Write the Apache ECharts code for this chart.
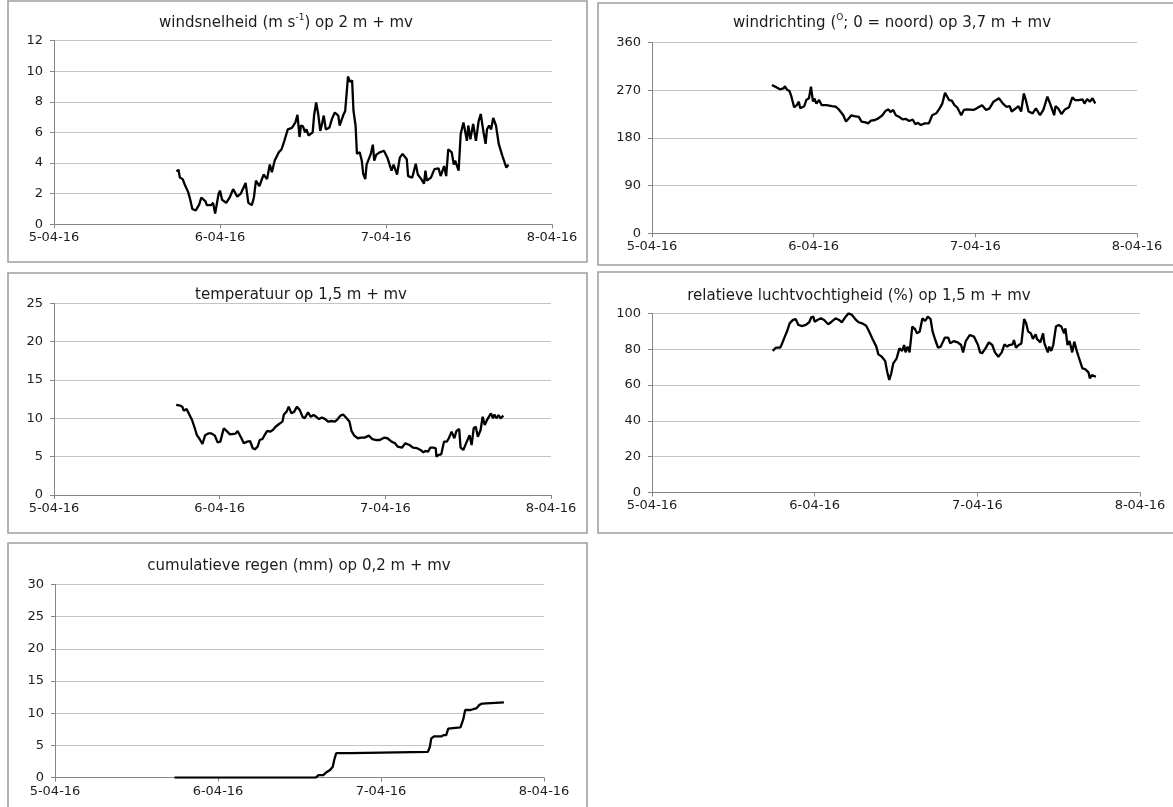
<!DOCTYPE html>
<html>
<head>
<meta charset="utf-8">
<script src="https://cdn.jsdelivr.net/npm/echarts@6/dist/echarts.min.js"></script>
<style>
  html, body { margin: 0; padding: 0; background: #ffffff; }
  #chart { width: 1173px; height: 807px; }
</style>
</head>
<body>
<div id="chart"></div>
<script>
// Weather station record, 5-04-16 to 8-04-16. Times are hours after 5-04-16 00:00.
const DAY_LABELS = ['5-04-16', '6-04-16', '7-04-16', '8-04-16'];

// wind speed (m/s) at 2 m
const windHours = [17.7,18.0,18.2,18.6,18.9,19.4,19.7,20.0,20.2,20.5,21.0,21.3,21.9,22.1,22.7,23.0,23.3,23.8,24.0,24.3,24.9,25.4,25.9,26.5,27.0,27.7,28.1,28.6,28.9,29.2,29.7,30.3,30.8,31.2,31.5,31.9,32.5,32.9,33.3,33.8,34.4,34.9,35.2,35.5,35.7,36.0,36.3,36.5,36.8,37.4,37.6,37.9,38.2,38.5,38.7,39.0,39.3,39.8,40.2,40.6,41.1,41.3,41.8,42.1,42.4,42.5,42.8,43.1,43.3,43.6,43.8,44.2,44.5,44.7,45.0,45.2,45.8,46.1,46.3,46.6,47.1,47.7,48.2,48.8,49.1,49.6,50.0,50.4,51.0,51.2,51.8,52.3,52.6,53.1,53.5,53.7,53.9,54.5,55.0,55.6,55.9,56.4,56.7,57.0,57.5,57.8,58.0,58.5,58.8,59.2,59.7,59.9,60.2,60.6,61.0,61.4,61.7,62.1,62.4,62.6,62.9,63.2,63.5,63.9,64.3,64.8,65.4,65.7];
const windSpeed = [3.45,3.56,3.06,2.95,2.6,2.1,1.6,1.0,1.1,0.9,1.3,1.75,1.5,1.25,1.25,1.4,0.7,2.0,2.2,1.6,1.4,1.75,2.3,1.8,2.0,2.7,1.4,1.25,1.75,2.85,2.5,3.25,2.95,3.9,3.4,4.15,4.7,4.9,5.45,6.2,6.3,6.65,7.15,5.7,6.45,6.4,6.0,6.2,5.8,6.0,7.1,7.95,7.2,6.1,6.45,7.1,6.2,6.3,6.9,7.3,7.1,6.45,7.1,7.4,9.05,9.65,9.3,9.4,7.4,6.45,4.6,4.7,4.15,3.3,2.95,3.9,4.6,5.2,4.15,4.55,4.7,4.8,4.35,3.5,3.9,3.25,4.35,4.6,4.25,3.15,3.05,3.95,3.25,2.95,2.65,3.5,2.85,3.05,3.6,3.65,3.15,3.8,3.15,4.9,4.7,3.9,4.15,3.5,5.9,6.65,5.45,6.45,5.55,6.55,5.45,6.75,7.2,6.0,5.25,6.2,6.45,6.2,6.95,6.45,5.25,4.5,3.7,3.9];

// wind direction (degrees, 0 = north) at 3.7 m
const dirHours = [17.8,18.5,19.0,19.6,19.7,20.1,20.4,20.7,21.1,21.5,21.8,22.0,22.6,22.9,23.3,23.6,23.9,24.1,24.4,24.8,25.2,25.9,26.7,27.3,27.8,28.4,28.8,29.2,29.6,30.0,30.7,31.1,31.7,32.1,32.5,33.1,33.6,34.2,34.7,35.1,35.4,35.8,36.2,36.8,37.2,37.7,38.2,38.7,39.1,39.5,39.9,40.5,41.1,41.6,42.2,42.7,43.1,43.5,44.1,44.5,44.9,45.3,45.9,46.3,46.8,47.7,48.2,49.0,49.6,50.1,50.7,51.5,52.1,52.6,53.1,53.4,54.0,54.4,54.8,55.2,55.5,55.9,56.5,57.0,57.6,58.1,58.7,59.1,59.7,59.9,60.3,60.8,61.3,61.9,62.4,62.8,63.4,63.9,64.2,64.6,65.0,65.4,65.8];
const windDir = [280,275.6,272,274,278,270.6,269,258,238,242,248.6,236,240,251.7,255,277,248.6,255,245,251.7,242,242,240,239,233,223,211,217,223,221.5,220,211,209.6,207.7,212.7,214,217,223,231.6,234,229,233,223,219,215,216,212,215,206,208.7,204.5,207.7,207.7,223,226.6,236,245,265.6,251.7,250.5,242,238,223,233,234,233,236,242,233,236,248.6,255,245,239,240,230,236,240,230,264,251.7,230,226.6,236,223,233,258,245,223,240,236,225,234,238,256.7,251.7,251.7,253,245,253.6,248.6,255,245];

// air temperature (degC) at 1.5 m
const tempHours = [17.7,18.3,18.6,18.8,19.2,19.4,20.0,20.4,20.7,21.1,21.5,21.9,22.4,22.8,23.3,23.7,24.1,24.4,24.6,25.1,25.5,26.3,26.6,27.1,27.5,28.0,28.4,28.8,29.1,29.5,29.8,30.2,30.5,30.9,31.3,31.7,32.1,32.6,33.1,33.3,33.7,34.0,34.4,34.8,35.2,35.6,36.0,36.3,36.8,37.2,37.6,38.0,38.4,38.8,39.3,39.7,40.3,40.7,41.1,41.5,41.9,42.3,42.8,43.1,43.5,44.0,44.5,45.0,45.6,46.1,46.7,47.2,47.8,48.3,48.9,49.4,49.8,50.4,50.9,51.5,52.0,52.6,53.1,53.5,53.8,54.2,54.5,54.9,55.3,55.4,55.7,56.1,56.5,56.9,57.2,57.6,58.0,58.3,58.7,58.9,59.3,59.8,60.2,60.5,60.8,61.1,61.4,61.8,62.1,62.4,62.8,63.0,63.3,63.6,63.8,64.1,64.4,64.7,65.1];
const temperature = [11.74,11.65,11.5,11.0,11.2,10.87,9.78,8.7,7.8,7.3,6.65,7.8,8.04,8.04,7.74,6.87,6.96,8.04,8.7,8.26,7.9,8.0,8.35,7.5,6.74,6.96,7.04,6.1,5.96,6.3,7.17,7.3,7.8,8.35,8.26,8.48,8.9,9.26,9.57,10.5,10.87,11.52,10.65,10.87,11.52,11.1,10.2,10.0,10.78,10.2,10.43,10.2,9.9,10.1,9.9,9.57,9.65,9.57,9.9,10.35,10.5,10.1,9.57,8.35,7.74,7.4,7.48,7.48,7.74,7.3,7.17,7.17,7.48,7.4,6.96,6.74,6.3,6.17,6.74,6.52,6.17,6.1,5.87,5.57,5.74,5.65,6.17,6.17,6.1,5.0,5.22,5.3,6.96,6.96,7.4,8.26,7.4,8.35,8.6,6.17,5.87,6.96,7.8,6.52,8.7,8.9,7.6,8.48,10.2,9.13,9.9,10.2,10.65,10.0,10.5,10.0,10.43,10.0,10.35];

// relative humidity (%) at 1.5 m
const rhHours = [17.8,18.0,18.3,18.9,19.1,19.6,20.0,20.3,20.8,21.2,21.6,22.1,22.7,23.2,23.5,23.8,24.0,24.4,24.9,25.4,26.0,26.5,27.1,27.6,28.0,28.4,29.0,29.5,30.1,30.5,31.0,31.6,32.0,32.5,33.1,33.4,33.9,34.4,34.7,35.0,35.3,35.6,36.1,36.5,36.9,37.2,37.4,37.7,38.0,38.4,38.8,39.1,39.5,39.9,40.3,40.7,41.1,41.4,41.8,42.2,42.6,43.2,43.7,44.0,44.5,45.1,45.6,45.9,46.3,46.9,47.5,48.1,48.4,48.7,49.2,49.7,50.2,50.6,51.1,51.6,52.0,52.4,52.7,53.2,53.4,53.7,54.1,54.5,54.9,55.2,55.5,55.9,56.2,56.6,56.8,57.3,57.7,57.9,58.4,58.6,58.9,59.2,59.6,60.0,60.4,60.8,61.0,61.3,61.6,62.0,62.3,62.7,63.1,63.5,63.9,64.4,64.6,64.9,65.5];
const humidity = [79,78.2,80.8,80.8,82.3,87,90.7,94.4,96.3,96.8,93.5,92.9,93.5,95,97.8,98.1,95.3,96.3,97.2,96.3,93.9,95.3,97.2,96.3,95,97.2,100,99.1,96.3,95,94.4,93.1,90.1,86,81.4,77.1,75.8,73.4,67.4,62.8,66.5,72.1,74.9,80.4,79,82.3,78.2,81.4,78.2,92.6,91.2,88.8,89.8,97.2,95.7,98.1,96.8,89.8,85.1,80.8,81.4,86.4,86.4,83.2,84.5,83.8,82.3,78.2,84.5,87.9,87,82.3,78.2,77.7,80.4,83.8,82.3,78.2,75.8,78.2,82.7,81.4,82.3,82.7,85.1,80.8,82.3,83.2,96.8,94.4,89.8,88.8,85.7,88.3,85.7,83.8,88.8,83.2,78.2,81.4,79,82.3,92.6,93.5,92.6,88.8,91.6,82.3,84.5,78.2,84.2,78.6,73.9,69.3,68.9,67,63.7,65.5,64.6];

// cumulative rain (mm) at 0.2 m
const rainHours = [17.6,38.4,38.8,39.5,39.9,40.5,40.9,41.1,41.4,43.5,43.7,54.9,55.2,55.4,55.8,56.9,57.2,57.6,57.9,58.1,59.7,60.1,60.4,61.2,61.4,62.1,62.5,62.9,63.1,66.1];
const rainCum = [0,0,0.4,0.4,0.8,1.2,1.7,2.7,3.8,3.8,4.0,4.0,4.8,6.1,6.4,6.4,6.6,6.6,7.6,7.8,7.8,9.0,10.5,10.5,10.8,10.8,11.3,11.5,11.7,11.7];

const zip = (xs, ys) => xs.map((x, i) => [x, ys[i]]);

const FONT = 'DejaVu Sans, Liberation Sans, sans-serif';
const TEXT = '#1c1c1c';

// panel layout: frame box, plot grid, title position, y scale
const panels = [
  { box: [8, 1, 579, 261],     grid: { left: 54,  top: 40.5, width: 498, height: 183.8 }, title: [281, 8],
    text: '{t|windsnelheid (m s}{s|-1}{t|) op 2 m + mv}', y: [0, 12, 2], data: zip(windHours, windSpeed) },
  { box: [598, 3, 600, 262],   grid: { left: 652, top: 42.7, width: 485, height: 190.6 }, title: [887, 8],
    text: '{t|windrichting (}{s|O}{t|; 0 = noord) op 3,7 m + mv}', y: [0, 360, 90], data: zip(dirHours, windDir) },
  { box: [8, 273, 579, 260],   grid: { left: 54,  top: 303.3, width: 497, height: 191.7 }, title: [296, 280],
    text: '{t|temperatuur op 1,5 m + mv}', y: [0, 25, 5], data: zip(tempHours, temperature) },
  { box: [598, 272, 600, 261], grid: { left: 652, top: 313.3, width: 488, height: 179.2 }, title: [854, 281],
    text: '{t|relatieve luchtvochtigheid (%) op 1,5 m + mv}', y: [0, 100, 20], data: zip(rhHours, humidity) },
  { box: [8, 543, 579, 290],   grid: { left: 55,  top: 584.3, width: 489, height: 193.4 }, title: [294, 551],
    text: '{t|cumulatieve regen (mm) op 0,2 m + mv}', y: [0, 30, 5], data: zip(rainHours, rainCum) }
];

const chart = echarts.init(document.getElementById('chart'), null, { renderer: 'canvas' });

const option = {
  animation: false,
  backgroundColor: '#ffffff',
  graphic: panels.map(p => ({
    type: 'rect', silent: true, z: -10,
    shape: { x: p.box[0], y: p.box[1], width: p.box[2], height: p.box[3] },
    style: { fill: '#ffffff', stroke: '#a0a0a0', lineWidth: 1.6 }
  })),
  title: panels.map(p => ({
    text: p.text,
    left: p.title[0], top: p.title[1], textAlign: 'center',
    textStyle: {
      fontWeight: 'normal',
      rich: {
        t: { fontFamily: FONT, fontSize: 15, fontWeight: 'normal', color: TEXT, lineHeight: 20 },
        s: { fontFamily: FONT, fontSize: 9, fontWeight: 'normal', color: TEXT, lineHeight: 20, verticalAlign: 'top', padding: [0, 0, 7, 0] }
      }
    }
  })),
  grid: panels.map(p => Object.assign({ containLabel: false }, p.grid)),
  xAxis: panels.map((p, i) => ({
    type: 'value', gridIndex: i, min: 0, max: 72, interval: 24,
    axisLine: { show: true, lineStyle: { color: '#868686', width: 1 } },
    axisTick: { show: true, length: 4, lineStyle: { color: '#868686' } },
    splitLine: { show: false },
    axisLabel: { fontFamily: FONT, fontSize: 13, color: TEXT, margin: 7, formatter: v => DAY_LABELS[Math.round(v / 24)] }
  })),
  yAxis: panels.map((p, i) => ({
    type: 'value', gridIndex: i, min: p.y[0], max: p.y[1], interval: p.y[2],
    axisLine: { show: true, lineStyle: { color: '#868686', width: 1 } },
    axisTick: { show: true, length: 4, lineStyle: { color: '#868686' } },
    splitLine: { show: true, lineStyle: { color: '#c4c4c4', width: 1 } },
    axisLabel: { fontFamily: FONT, fontSize: 13, color: TEXT, margin: 11 }
  })),
  series: panels.map((p, i) => ({
    type: 'line', xAxisIndex: i, yAxisIndex: i, data: p.data,
    showSymbol: false, smooth: false,
    lineStyle: { color: '#000000', width: 2.3 }
  }))
};

chart.setOption(option);
</script>
</body>
</html>
